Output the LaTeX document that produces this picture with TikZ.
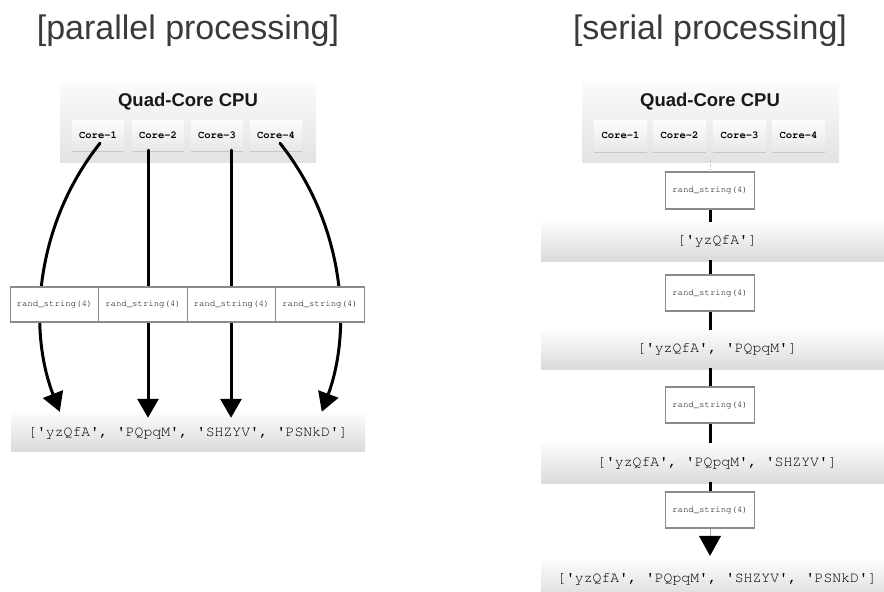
\documentclass[tikz,border=0pt]{standalone}
\usepackage{fontspec}
\usepackage[T1,TU]{fontenc}
\setmainfont{Liberation Sans}
\newcommand\couriertxt{\fontencoding{T1}\fontfamily{pcr}\selectfont}
\newcommand\sq{\textquotesingle}
\usetikzlibrary{shadows,arrows.meta,calc}
\definecolor{titlegray}{HTML}{3A3A3A}
\definecolor{boxedge}{HTML}{8A8A8A}
\tikzset{
  ttl/.style={font=\fontsize{34}{40}\selectfont, text=titlegray, inner sep=0pt},
  cpubox/.style={rectangle, top color=gray!3, bottom color=gray!22, draw=none,
     minimum width=256pt, minimum height=79pt,
     drop shadow={opacity=0.22, shadow xshift=0pt, shadow yshift=-1.5pt}},
  cpulabel/.style={font=\bfseries\fontsize{18.5}{20}\selectfont, text=black!90, inner sep=0pt, anchor=base},
  corebox/.style={rectangle, top color=gray!2, bottom color=gray!18, draw=none,
     minimum width=52pt, minimum height=30pt, inner sep=0pt,
     font=\couriertxt\bfseries\fontsize{10.5}{12}\selectfont, text=black,
     drop shadow={opacity=0.3, shadow xshift=0pt, shadow yshift=-1.5pt}},
  randbox/.style={rectangle, fill=white, draw=boxedge, line width=1.2pt,
     minimum width=88.5pt, minimum height=35pt, inner sep=0pt,
     font=\couriertxt\fontsize{9}{10}\selectfont, text=black},
  resbox/.style={rectangle, top color=gray!2, bottom color=gray!28, draw=none,
     minimum height=38pt, inner sep=0pt,
     font=\couriertxt\fontsize{14.8}{16}\selectfont, text=black,
     drop shadow={opacity=0.25, shadow xshift=0pt, shadow yshift=-1.5pt}},
  sketch/.style={line width=3pt, black, line cap=round},
  bigtip/.style={-{Triangle[length=19pt,width=21pt]}},
}
\begin{document}
\begin{tikzpicture}[x=1pt,y=-1pt]
\clip (0,0) rectangle (884,592);
\fill[white] (0,0) rectangle (884,592);

% ---------- parallel ----------
\node[ttl] (tp) at (188,31) {[parallel processing]};
\node[cpubox] (cpuL) at (188,121.5) {};
\node[cpulabel] (qL) at (188,106) {Quad-Core CPU};
\node[corebox] (c1) at (98,135) {Core-1};
\node[corebox] (c2) at (158,135) {Core-2};
\node[corebox] (c3) at (217,135) {Core-3};
\node[corebox] (c4) at (276,135) {Core-4};

\node[resbox, minimum width=354pt] (resL) at (188,431) {};
\node[inner sep=0pt, font=\couriertxt\fontsize{14.8}{16}\selectfont, text=black] (resLt) at (188,433) {[\sq yzQfA\sq, \sq PQpqM\sq, \sq SHZYV\sq, \sq PSNkD\sq]};

\draw[sketch, bigtip] ($(c1.south)+(2,-7)$) .. controls (35,225) and (28,330) .. ($(resL.north west)+(49,0)$);
\draw[sketch, bigtip] ($(c2.south)+(-10,0)$) -- ($(c2.south |- resL.north)+(-10,6)$);
\draw[sketch, bigtip] ($(c3.south)+(14,0)$) -- ($(c3.south |- resL.north)+(14,6)$);
\draw[sketch, bigtip] ($(c4.south)+(4,-7)$) .. controls (345,225) and (352,330) .. ($(resL.north west)+(311,0)$);

\node[randbox] (p1) at (54.5,304.5) {rand\_string(4)};
\node[randbox] (p2) at (143,304.5) {rand\_string(4)};
\node[randbox] (p3) at (231.5,304.5) {rand\_string(4)};
\node[randbox] (p4) at (320,304.5) {rand\_string(4)};

% ---------- serial ----------
\node[ttl] (ts) at (710,31) {[serial processing]};
\node[cpubox, minimum width=257pt] (cpuR) at (710.5,121.5) {};
\node[cpulabel] (qR) at (710,106) {Quad-Core CPU};
\node[corebox, minimum width=53pt, minimum height=31pt] (d1) at (620.5,135.5) {Core-1};
\node[corebox, minimum width=53pt, minimum height=31pt] (d2) at (679.5,135.5) {Core-2};
\node[corebox, minimum width=53pt, minimum height=31pt] (d3) at (739.5,135.5) {Core-3};
\node[corebox, minimum width=53pt, minimum height=31pt] (d4) at (798.5,135.5) {Core-4};

\node[randbox, minimum width=89pt, minimum height=37pt] (s1) at (710,190.5) {rand\_string(4)};
\node[resbox, minimum width=352pt] (r1) at (717,241) {[\sq yzQfA\sq]};
\node[randbox, minimum width=89pt, minimum height=36pt] (s2) at (710,293) {rand\_string(4)};
\node[resbox, minimum width=352pt] (r2) at (717,349) {[\sq yzQfA\sq, \sq PQpqM\sq]};
\node[randbox, minimum width=89pt, minimum height=36pt] (s3) at (710,405) {rand\_string(4)};
\node[resbox, minimum width=352pt, minimum height=39pt] (r3) at (717,462.5) {[\sq yzQfA\sq, \sq PQpqM\sq, \sq SHZYV\sq]};
\node[randbox, minimum width=89pt, minimum height=36pt] (s4) at (710,510) {rand\_string(4)};
\node[resbox, minimum width=352pt] (r4) at (717,579) {[\sq yzQfA\sq, \sq PQpqM\sq, \sq SHZYV\sq, \sq PSNkD\sq]};

\draw[gray!60, line width=0.5pt, dotted] (s1.north |- cpuR.south) -- (s1.north);
\draw[sketch, line width=3pt, line cap=butt] (s1.south) -- (s1.south |- r1.north);
\draw[sketch, line width=3pt, line cap=butt] (s2.north |- r1.south) -- (s2.north);
\draw[sketch, line width=3pt, line cap=butt] (s2.south) -- (s2.south |- r2.north);
\draw[sketch, line width=3pt, line cap=butt] (s3.north |- r2.south) -- (s3.north);
\draw[sketch, line width=3pt, line cap=butt] (s3.south) -- (s3.south |- r3.north);
\draw[sketch, line width=3pt, line cap=butt] (s4.north |- r3.south) -- (s4.north);
\draw[gray!70, line width=0.8pt, -{Triangle[length=20pt,width=22pt,fill=black,color=black]}] (s4.south) -- ($(s4.south |- r4.north)+(0,-4)$);
\end{tikzpicture}
\end{document}
